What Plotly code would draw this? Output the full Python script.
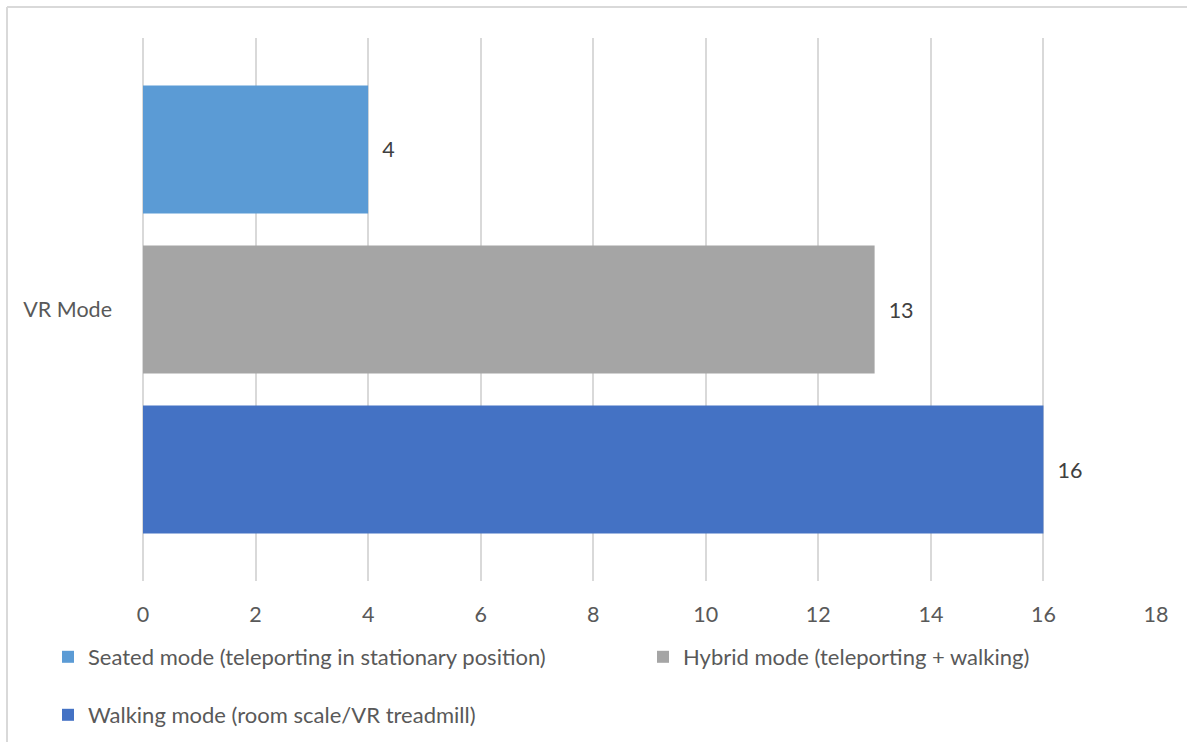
import plotly.graph_objects as go

# Survey counts per VR locomotion mode
category = ["VR Mode"]
series_names = [
    "Seated mode (teleporting in stationary position)",
    "Hybrid mode (teleporting + walking)",
    "Walking mode (room scale/VR treadmill)",
]
series_values = [[4], [13], [16]]
series_colors = ["#5B9BD5", "#A5A5A5", "#4472C4"]
x_ticks = [0, 2, 4, 6, 8, 10, 12, 14, 16, 18]

W, H = 1187, 742
L, R, T, B = 143, 31, 38, 161
plot_w = W - L - R
plot_h = H - T - B

def px_x(p):
    return (p - L) / plot_w

def px_y(p):
    return (H - B - p) / plot_h

FONT = "Lato, 'Open Sans', sans-serif"
NB = "\u00a0"
AXIS_SIZE = 21.5
LEGEND_SIZE = 22

fig = go.Figure()
legend_ids = ["legend", "legend2", "legend3"]
for name, vals, color, lg in zip(series_names, series_values, series_colors, legend_ids):
    fig.add_trace(go.Bar(
        y=category,
        x=vals,
        name=name,
        orientation="h",
        marker=dict(color=color, line=dict(width=0)),
        text=vals,
        texttemplate=NB * 2 + "%{x}",
        textposition="outside",
        outsidetextfont=dict(family=FONT, size=AXIS_SIZE, color="#404040"),
        cliponaxis=False,
        legend=lg,
        hoverinfo="skip",
    ))

legend_common = dict(
    font=dict(family=FONT, size=LEGEND_SIZE, color="#595959"),
    bgcolor="rgba(0,0,0,0)",
    xanchor="left",
    yanchor="middle",
    orientation="h",
)

fig.update_layout(
    width=W,
    height=H,
    margin=dict(l=L, r=R, t=T, b=B, autoexpand=False),
    paper_bgcolor="white",
    plot_bgcolor="white",
    barmode="group",
    bargap=0.116,
    bargroupgap=0.2,
    showlegend=True,
    legend=dict(x=px_x(48), y=px_y(657), **legend_common),
    legend2=dict(x=px_x(643), y=px_y(657), **legend_common),
    legend3=dict(x=px_x(48), y=px_y(715), **legend_common),
    xaxis=dict(
        range=[0, 18],
        tickvals=x_ticks,
        ticktext=[str(v) for v in x_ticks],
        showgrid=True,
        gridcolor="#d9d9d9",
        gridwidth=1.5,
        zeroline=True,
        zerolinecolor="#d9d9d9",
        zerolinewidth=1.5,
        showline=False,
        ticks="",
        ticklabelstandoff=18,
        tickfont=dict(family=FONT, size=AXIS_SIZE, color="#595959"),
        automargin=False,
        fixedrange=True,
    ),
    yaxis=dict(
        autorange="reversed",
        showgrid=False,
        zeroline=False,
        showline=False,
        ticks="",
        ticklabelstandoff=30,
        tickfont=dict(family=FONT, size=AXIS_SIZE, color="#595959"),
        automargin=False,
        fixedrange=True,
    ),
    shapes=[
        # chart area frame (top and left edges)
        dict(type="line", xref="paper", yref="paper",
             x0=px_x(7), x1=px_x(W + 50), y0=px_y(7), y1=px_y(7),
             line=dict(color="#d9d9d9", width=2)),
        dict(type="line", xref="paper", yref="paper",
             x0=px_x(7), x1=px_x(7), y0=px_y(7), y1=px_y(H + 50),
             line=dict(color="#d9d9d9", width=2)),
    ],
)

fig.write_html("out.html")
